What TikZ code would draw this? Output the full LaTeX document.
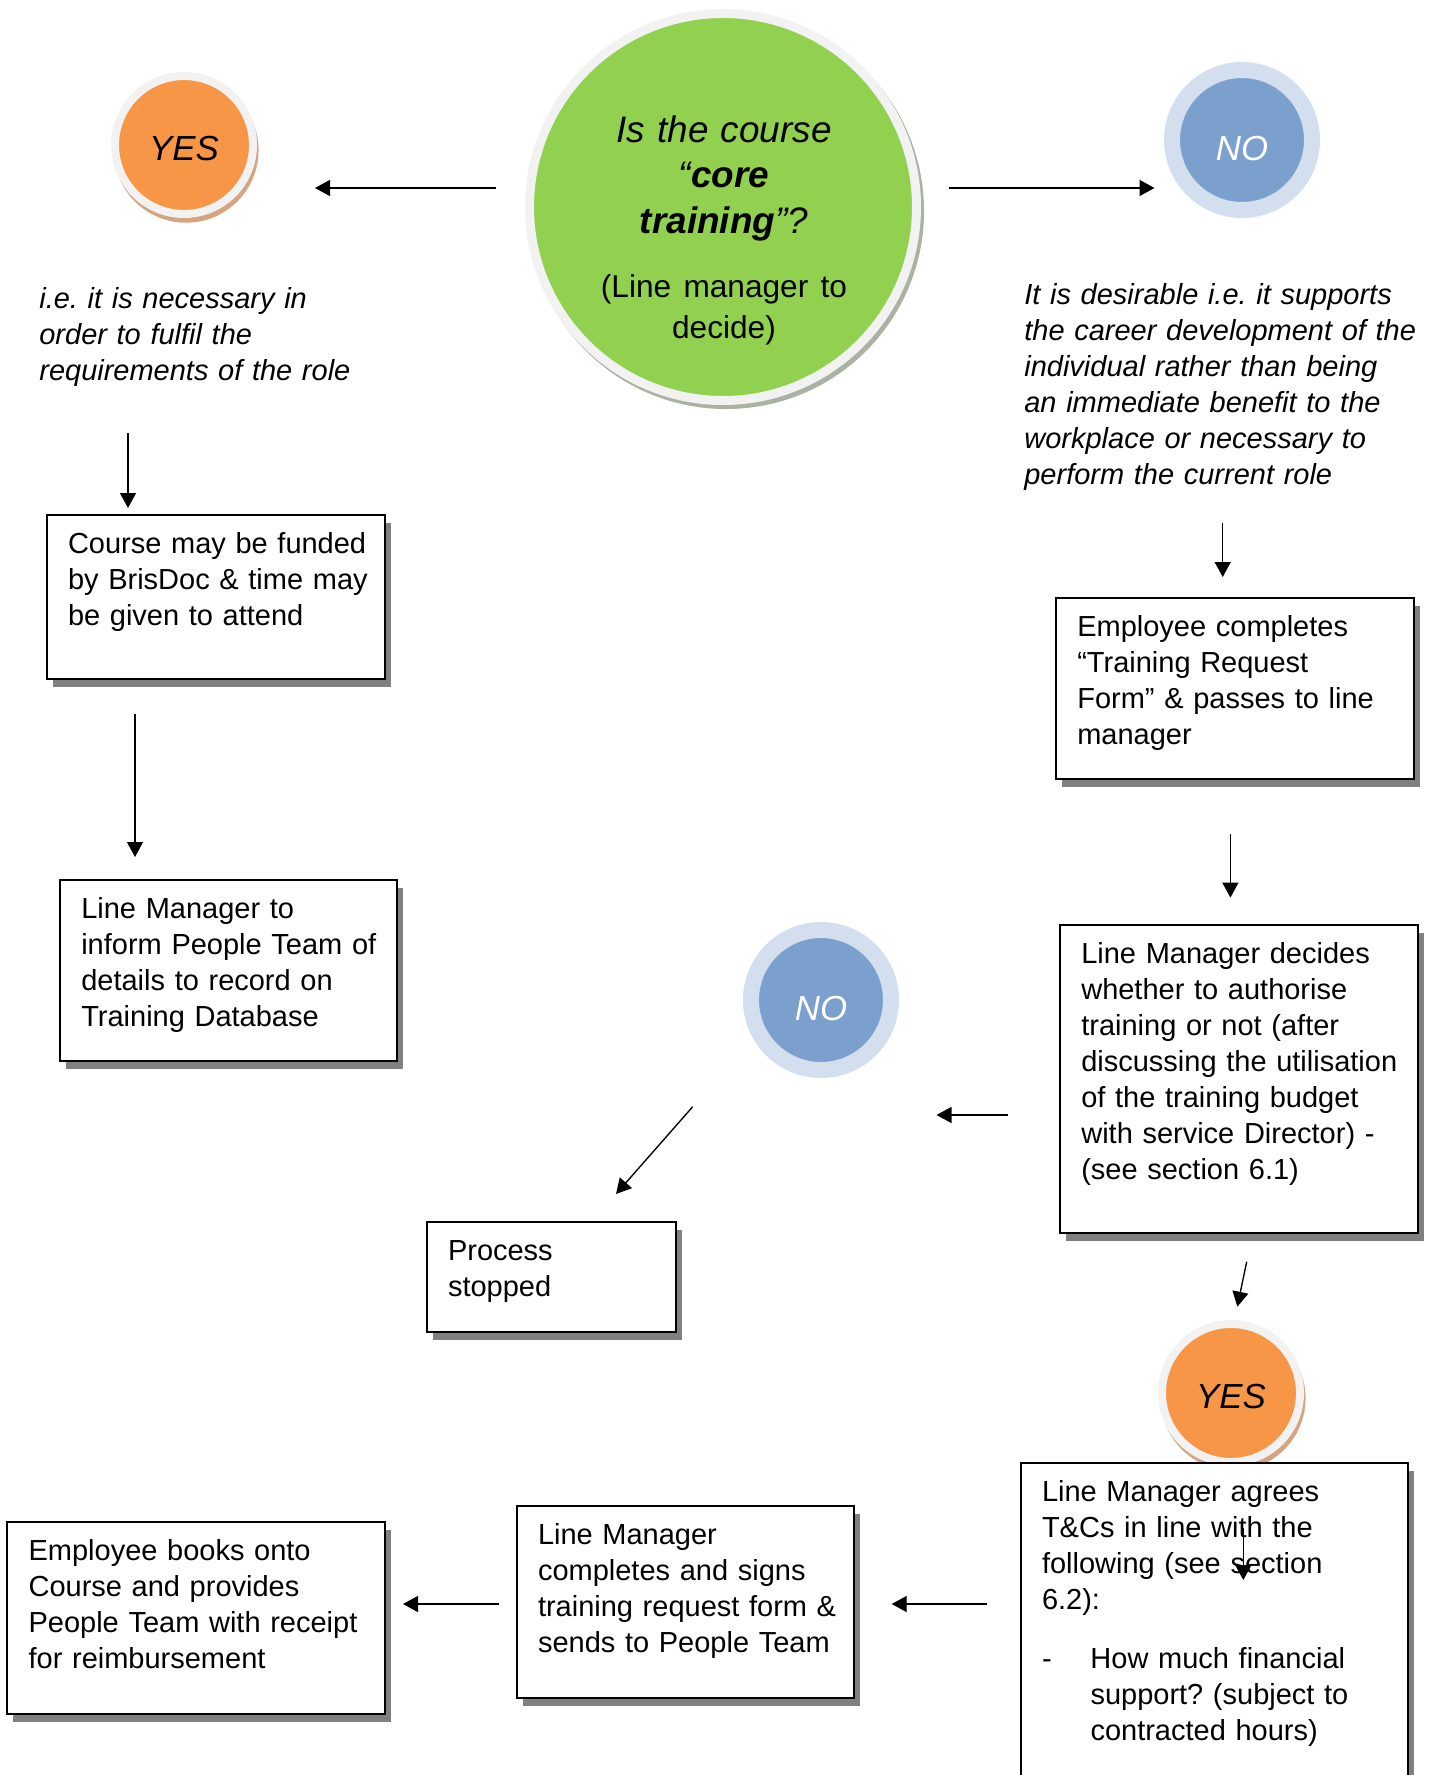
\documentclass[tikz,border=0pt]{standalone}
\usepackage{fontspec}
\setmainfont{Liberation Sans}
\frenchspacing
\usetikzlibrary{arrows.meta,shadows}
\definecolor{yesorange}{HTML}{F79646}
\definecolor{yesshade}{HTML}{D6A47F}
\definecolor{noblue}{HTML}{7BA0CD}
\definecolor{noring}{HTML}{D3DFEE}
\definecolor{coregreen}{HTML}{92D050}
\definecolor{rimgrey}{HTML}{F2F2F2}
\definecolor{coreshade}{HTML}{ABB2A2}
\tikzset{
  formbox/.style  ={draw,line width=0.35mm,fill=white,anchor=north west,align=left,
                    inner xsep=2.6mm,inner ysep=0pt,outer sep=0pt,text height=7.6mm,
                    font=\fontsize{16.5}{20.54}\selectfont,
                    execute at begin node={\leftskip=1.66mm},
                    drop shadow={shadow xshift=1.2mm,shadow yshift=-1.6mm,fill=black!50,opacity=1}},
  notetext/.style ={anchor=north west,align=left,inner sep=0pt,text height=7.6mm,
                    font=\fontsize{16.5}{20.54}\selectfont\itshape},
  yesdisc/.style  ={circle,fill=yesorange,draw=rimgrey,line width=1.6mm,minimum size=27.6mm,
                    inner sep=0pt,text height=6.2mm,text depth=0mm,
                    font=\fontsize{19.8}{23}\selectfont\itshape,
                    drop shadow={shadow xshift=0.4mm,shadow yshift=-1mm,shadow scale=1.05,
                                 fill=yesshade,opacity=1}},
  nodisc/.style   ={circle,fill=noblue,draw=noring,line width=3.2mm,minimum size=28mm,
                    inner sep=0pt,text height=8.2mm,text depth=0mm,
                    text=white,font=\fontsize{19.8}{23}\selectfont\itshape},
  coredisc/.style ={circle,fill=coregreen,draw=rimgrey,line width=1.8mm,minimum size=77.4mm,
                    drop shadow={shadow xshift=0.6mm,shadow yshift=-0.8mm,shadow scale=1.023,
                                 fill=coreshade,opacity=1}},
  flow/.style     ={-{Triangle[length=3mm,width=3.2mm]},line width=0.27mm},
}
\begin{document}
\begin{tikzpicture}[x=0.2mm,y=-0.2mm]
\useasboundingbox (0,0) rectangle (1433,1775);
\clip (0,0) rectangle (1433,1775);
% the question
\node[coredisc] (core) at (723,207) {};
\node[anchor=north,align=center,inner sep=0pt,text width=70mm,text height=8mm,
      font=\fontsize{21}{25.9}\selectfont] (coreq) at (724,102)
  {{\itshape Is the course\\ “\textbf{core}\\ \textbf{training}”?\par}
   \vspace{4.9mm}
   {\fontsize{18}{22.8}\selectfont (Line manager to\\ decide)\par}};
\node[yesdisc] (yesA) at (184,145) {YES};
\node[nodisc] (noA) at (1242,140) {NO};
% yes branch
\node[notetext,text width=66mm] (why) at (39,270)
  {i.e. it is necessary in\\ order to fulfil the\\ requirements of the role};
\node[formbox,text width=62.46mm,text depth=25.2mm] (fund) at (46.7,515)
  {Course may be funded\\ by BrisDoc \& time may\\ be given to attend};
\node[formbox,text width=62.26mm,text depth=28.6mm] (inform) at (60,880)
  {Line Manager to\\ inform People Team of\\ details to record on\\ Training Database};
% no branch
\node[notetext,text width=80mm] (want) at (1024,266)
  {It is desirable i.e. it supports\\ the career development of the\\ individual rather than being\\
   an immediate benefit to the\\ workplace or necessary to\\ perform the current role};
\node[formbox,text width=66.4mm,text depth=28.6mm] (request) at (1056,598)
  {Employee completes\\ “Training Request\\ Form” \& passes to line\\ manager};
\node[formbox,text width=66.4mm,text depth=54mm] (decide) at (1060,925)
  {Line Manager decides\\ whether to authorise\\ training or not (after\\ discussing the utilisation\\
   of the training budget\\ with service Director) -\\ (see section 6.1)};
\node[nodisc] (noB) at (821,1000) {NO};
\node[formbox,text width=44.66mm,text depth=14.4mm] (stop) at (426.7,1222) {Process\\ stopped};
\node[yesdisc] (yesB) at (1231,1393) {YES};
\node[formbox,text width=72.32mm,text depth=60mm] (agree) at (1020.7,1463.3)
  {Line Manager agrees\\ T\&Cs in line with the\\ following (see section\\ 6.2):\\[4.6mm]
   \makebox[9.7mm][l]{-}How much financial\\ \hspace*{9.7mm}support? (subject to\\
   \hspace*{9.7mm}contracted hours)};
\node[formbox,text width=62.26mm,text depth=30.8mm] (sign) at (516.7,1506)
  {Line Manager\\ completes and signs\\ training request form \&\\ sends to People Team};
\node[formbox,text width=70.34mm,text depth=30.8mm] (book) at (7.3,1522)
  {Employee books onto\\ Course and provides\\ People Team with receipt\\ for reimbursement};
% arrow ends (the arrows float between the shapes)
\foreach \n/\sx/\sy/\ex/\ey in {1/496/188/315/188, 2/948.5/188/1154.5/188,
    3/128/433/128/508, 4/135/714/135/857, 5/1222.7/523/1222.7/577,
    6/1230.4/834/1230.4/897.6, 7/1008/1115/936.5/1115, 8/692.7/1106.7/616/1194,
    9/1246.7/1261.7/1237.3/1306.7, 10/1243.3/1528/1243.3/1580,
    11/987/1604/891.7/1604, 12/499/1604/403/1604}{
  \coordinate (p\n) at (\sx,\sy);
  \coordinate (q\n) at (\ex,\ey);
}
\foreach \n in {1,...,12} \draw[flow] (p\n) -- (q\n);
\end{tikzpicture}
\end{document}
